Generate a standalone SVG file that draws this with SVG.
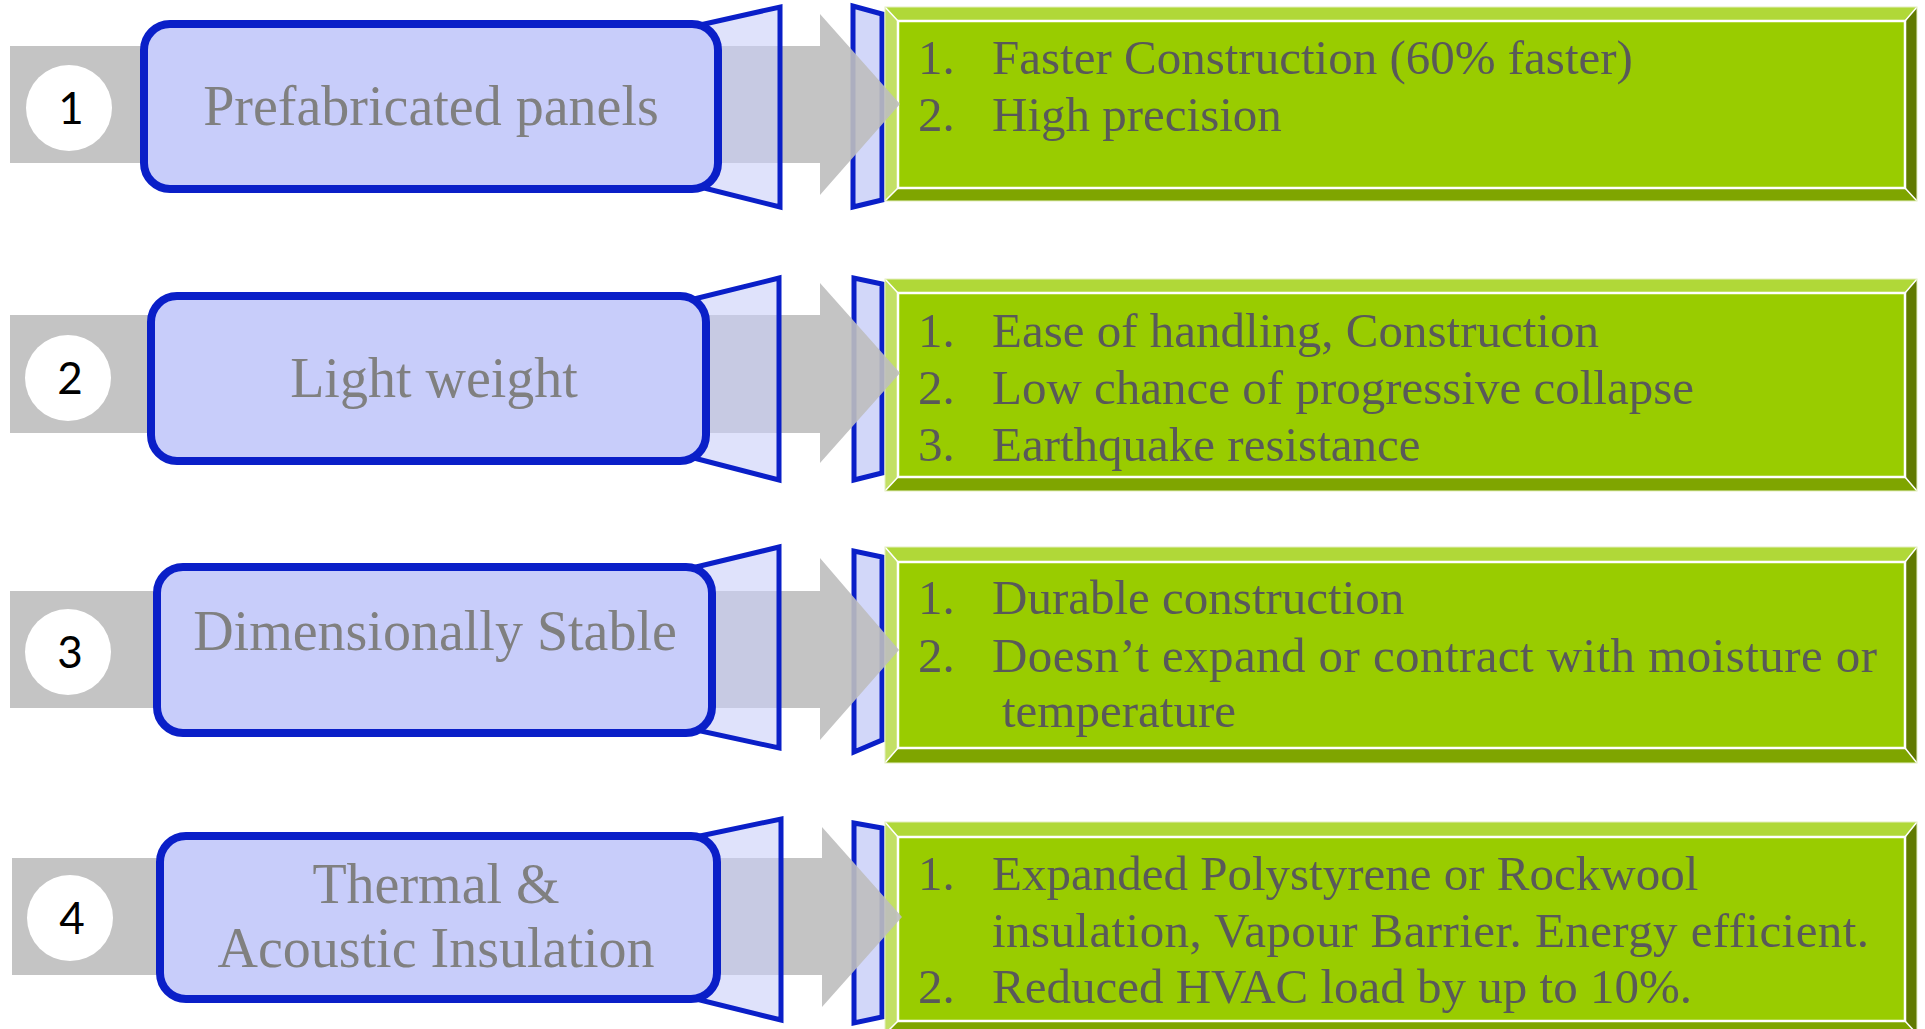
<svg xmlns="http://www.w3.org/2000/svg" width="1925" height="1029" viewBox="0 0 1925 1029">
<style>
.band{fill:#BEBEBE;opacity:0.9}
.trap{fill:#C9CFF8;fill-opacity:0.6;stroke:#0A1FC8;stroke-width:5;stroke-linejoin:miter}
.strap{fill:#D2D7F9;stroke:#0A1FC8;stroke-width:5}
.box{fill:#C8CDFA;stroke:#0A1FC8;stroke-width:8}
.circ{fill:#FFFFFF}
.num{font-family:Lato,"Liberation Sans",sans-serif;font-size:44px;fill:#000;text-anchor:middle}
.lbl{font-family:"Liberation Serif",serif;font-size:56px;fill:#808080;text-anchor:middle}
.txt{font-family:"Liberation Serif",serif;font-size:49px;fill:#595959}
.bt{fill:#B0D838}.bl{fill:#C3E065}.br{fill:#617A00}.bb{fill:#7FA500}
.inner{fill:#99CC00;stroke:#FFFFFF;stroke-width:2.5}
.diag{stroke:#FFFFFF;stroke-width:1.5;fill:none}
.outer{fill:none;stroke:#E4EEC0;stroke-width:1}
</style>

<!-- result nodes (green) -->
<g id="result1">
<polygon class="strap" points="882,14 853,6 853,207 882,200"/>
<polygon class="bt" points="885,7 1917,7 1905,21 898,21"/>
<polygon class="bl" points="885,7 898,21 898,188 885,201"/>
<polygon class="br" points="1917,7 1917,201 1905,188 1905,21"/>
<polygon class="bb" points="885,201 898,188 1905,188 1917,201"/>
<rect class="inner" x="898" y="21" width="1007" height="167"/>
<path class="diag" d="M885,7L898,21M1917,7L1905,21M885,201L898,188M1917,201L1905,188"/>
<rect class="outer" x="885" y="7" width="1032" height="194"/>
<text class="txt" x="918" y="74">1.<tspan x="992">Faster Construction (60% faster)</tspan></text>
<text class="txt" x="918" y="131">2.<tspan x="992">High precision</tspan></text>
</g>
<g id="result2">
<polygon class="strap" points="882,284 854,278 854,480 882,473"/>
<polygon class="bt" points="885,279 1917,279 1905,293 898,293"/>
<polygon class="bl" points="885,279 898,293 898,477 885,491"/>
<polygon class="br" points="1917,279 1917,491 1905,477 1905,293"/>
<polygon class="bb" points="885,491 898,477 1905,477 1917,491"/>
<rect class="inner" x="898" y="293" width="1007" height="184"/>
<path class="diag" d="M885,279L898,293M1917,279L1905,293M885,491L898,477M1917,491L1905,477"/>
<rect class="outer" x="885" y="279" width="1032" height="212"/>
<text class="txt" x="918" y="347">1.<tspan x="992">Ease of handling, Construction</tspan></text>
<text class="txt" x="918" y="404">2.<tspan x="992">Low chance of progressive collapse</tspan></text>
<text class="txt" x="918" y="461">3.<tspan x="992">Earthquake resistance</tspan></text>
</g>
<g id="result3">
<polygon class="strap" points="882,557 854,551 854,752 882,740"/>
<polygon class="bt" points="885,547 1917,547 1905,562 898,562"/>
<polygon class="bl" points="885,547 898,562 898,748 885,763"/>
<polygon class="br" points="1917,547 1917,763 1905,748 1905,562"/>
<polygon class="bb" points="885,763 898,748 1905,748 1917,763"/>
<rect class="inner" x="898" y="562" width="1007" height="186"/>
<path class="diag" d="M885,547L898,562M1917,547L1905,562M885,763L898,748M1917,763L1905,748"/>
<rect class="outer" x="885" y="547" width="1032" height="216"/>
<text class="txt" x="918" y="614">1.<tspan x="992">Durable construction</tspan></text>
<text class="txt" x="918" y="672">2.<tspan x="992" textLength="885" lengthAdjust="spacing">Doesn’t expand or contract with moisture or</tspan></text>
<text class="txt" x="1002" y="727">temperature</text>
</g>
<g id="result4">
<polygon class="strap" points="882,828 854,823 854,1023 882,1017"/>
<polygon class="bt" points="885,822 1917,822 1905,837 898,837"/>
<polygon class="bl" points="885,822 898,837 898,1021 885,1034"/>
<polygon class="br" points="1917,822 1917,1034 1905,1021 1905,837"/>
<polygon class="bb" points="885,1034 898,1021 1905,1021 1917,1034"/>
<rect class="inner" x="898" y="837" width="1007" height="184"/>
<path class="diag" d="M885,822L898,837M1917,822L1905,837M885,1034L898,1021M1917,1034L1905,1021"/>
<rect class="outer" x="885" y="822" width="1032" height="212"/>
<text class="txt" x="918" y="890">1.<tspan x="992">Expanded Polystyrene or Rockwool</tspan></text>
<text class="txt" x="992" y="947" textLength="877" lengthAdjust="spacing">insulation, Vapour Barrier. Energy efficient.</text>
<text class="txt" x="918" y="1003">2.<tspan x="992">Reduced HVAC load by up to 10%.</tspan></text>
</g>

<!-- connectors (gray arrows) -->
<g id="connectors">
<polygon class="band" points="10,46 820,46 820,14 900,104 820,195 820,163 10,163"/>
<polygon class="band" points="10,315 820,315 820,283 900,373 820,463 820,433 10,433"/>
<polygon class="band" points="10,591 820,591 820,558 899,650 820,740 820,708 10,708"/>
<polygon class="band" points="12,858 822,858 822,827 902,917 822,1007 822,975 12,975"/>
</g>

<!-- feature nodes (blue) -->
<g id="node1">
<polygon class="trap" points="700,25 780,7 780,207 700,187"/>
<rect class="box" x="144" y="24" width="574" height="165" rx="26"/>
<text class="lbl" x="431" y="125">Prefabricated panels</text>
<circle class="circ" cx="69" cy="108" r="43"/>
<text class="num" x="71" y="124">1</text>
</g>
<g id="node2">
<polygon class="trap" points="690,300 779,278 779,480 690,457"/>
<rect class="box" x="151" y="296" width="555" height="165" rx="26"/>
<text class="lbl" x="434" y="397">Light weight</text>
<circle class="circ" cx="68" cy="378" r="43"/>
<text class="num" x="70" y="394">2</text>
</g>
<g id="node3">
<polygon class="trap" points="696,567 779,547 779,748 696,730"/>
<rect class="box" x="157" y="567" width="555" height="166" rx="26"/>
<text class="lbl" x="435" y="650">Dimensionally Stable</text>
<circle class="circ" cx="68" cy="652" r="43"/>
<text class="num" x="70" y="668">3</text>
</g>
<g id="node4">
<polygon class="trap" points="700,836 781,819 781,1020 700,1000"/>
<rect class="box" x="160" y="836" width="557" height="163" rx="26"/>
<text class="lbl" x="436" y="903">Thermal &amp;</text>
<text class="lbl" x="436" y="967">Acoustic Insulation</text>
<circle class="circ" cx="70" cy="918" r="43"/>
<text class="num" x="72" y="934">4</text>
</g>
</svg>
